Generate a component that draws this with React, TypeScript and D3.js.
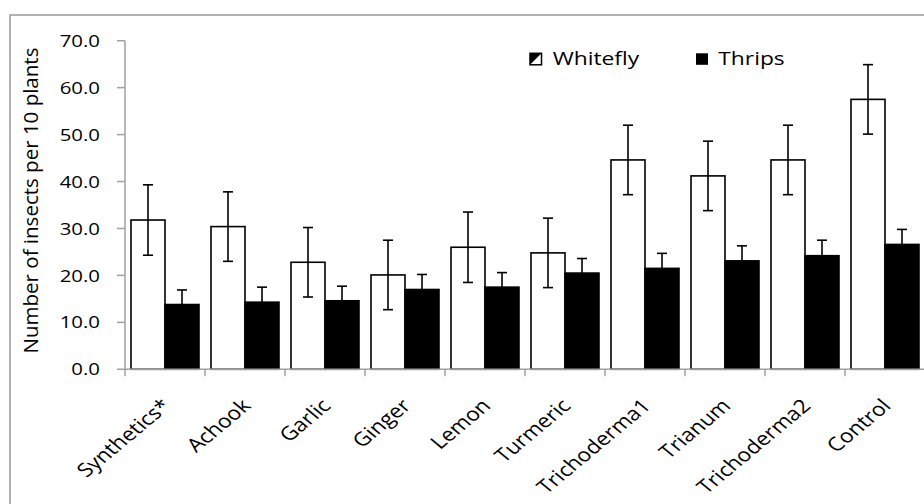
import * as d3 from "d3";

const categories = ["Synthetics*", "Achook", "Garlic", "Ginger", "Lemon", "Turmeric", "Trichoderma1", "Trianum", "Trichoderma2", "Control"];
const whitefly = [31.8, 30.4, 22.8, 20.1, 26.0, 24.8, 44.6, 41.2, 44.6, 57.5];
const whiteflyErr = [7.5, 7.4, 7.4, 7.4, 7.5, 7.4, 7.4, 7.4, 7.4, 7.4];
const thrips = [13.8, 14.3, 14.6, 17.0, 17.5, 20.5, 21.5, 23.1, 24.2, 26.6];
const thripsErr = [3.1, 3.2, 3.1, 3.2, 3.1, 3.1, 3.2, 3.2, 3.3, 3.2];
const seriesNames = ["Whitefly", "Thrips"];
const yTicks = [0, 10, 20, 30, 40, 50, 60, 70];

const W = 924;
const H = 504;
const FONT = "'Open Sans', sans-serif";
const SX = 1.2; // the picture is stretched sideways, text too
const AXIS = "#a0a0a0";

export default function App() {
  const x = d3.scaleBand<string>().domain(categories).range([125, 925]).paddingInner(0.15).paddingOuter(0.075);
  const inner = d3.scaleBand<string>().domain(seriesNames).range([0, x.bandwidth()]);
  const y = d3.scaleLinear().domain([0, 70]).range([369.3, 40.7]);
  const step = x.step();
  const edges = d3.range(categories.length + 1).map((i) => 125 + i * step);

  const series = [
    { name: "Whitefly", values: whitefly, err: whiteflyErr, fill: "#ffffff" },
    { name: "Thrips", values: thrips, err: thripsErr, fill: "#000000" },
  ];

  return (
    <svg width={W} height={H} style={{ position: "absolute", left: 0, top: 0, background: "#fff" }} fontFamily={FONT}>
      <rect x={10} y={15} width={930} height={500} fill="#fff" stroke="#999" strokeWidth={1.5} />

      {/* bars */}
      {series.map((s) =>
        categories.map((c, i) => {
          const bx = (x(c) ?? 0) + (inner(s.name) ?? 0);
          return (
            <rect key={s.name + c} x={bx} y={y(s.values[i])} width={inner.bandwidth()} height={y(0) - y(s.values[i])}
              fill={s.fill} stroke="#000" strokeWidth={1.6} />
          );
        })
      )}

      {/* error bars */}
      {series.map((s) =>
        categories.map((c, i) => {
          const cx = (x(c) ?? 0) + (inner(s.name) ?? 0) + inner.bandwidth() / 2;
          const hi = y(s.values[i] + s.err[i]);
          const lo = y(s.values[i] - s.err[i]);
          return (
            <g key={"e" + s.name + c} stroke="#000" strokeWidth={1.6}>
              <line x1={cx} x2={cx} y1={hi} y2={lo} />
              <line x1={cx - 5} x2={cx + 5} y1={hi} y2={hi} />
              <line x1={cx - 5} x2={cx + 5} y1={lo} y2={lo} />
            </g>
          );
        })
      )}

      {/* y axis */}
      <line x1={125} x2={125} y1={y(70)} y2={y(0)} stroke={AXIS} strokeWidth={1.5} />
      {yTicks.map((t) => (
        <g key={t}>
          <line x1={117} x2={125} y1={y(t)} y2={y(t)} stroke={AXIS} strokeWidth={1.5} />
          <text transform={`translate(100,${y(t)}) scale(${SX},1)`} textAnchor="end" dy="0.36em" fontSize={17} fill="#000">
            {d3.format(".1f")(t)}
          </text>
        </g>
      ))}

      {/* x axis */}
      <line x1={125} x2={925} y1={y(0)} y2={y(0)} stroke={AXIS} strokeWidth={1.5} />
      {edges.map((e) => (
        <line key={e} x1={e} x2={e} y1={y(0)} y2={y(0) + 7} stroke={AXIS} strokeWidth={1.5} />
      ))}
      {categories.map((c) => {
        const cx = (x(c) ?? 0) + x.bandwidth() / 2;
        return (
          <text key={c} transform={`translate(${cx + 7},${407}) scale(${SX},1) rotate(-45)`} textAnchor="end" fontSize={19} fill="#000">
            {c}
          </text>
        );
      })}

      {/* y title */}
      <text transform={`translate(37.5,200.5) rotate(-90)`} textAnchor="middle" fontSize={20.5} fill="#000">
        Number of insects per 10 plants
      </text>

      {/* legend */}
      <g>
        <rect x={530} y={53.3} width={11.5} height={11.5} fill="#fff" stroke="#000" strokeWidth={1.5} />
        <path d={`M530,53.3 L541.5,53.3 L530,64.8 Z`} fill="#000" />
        <text transform={`translate(552.7,65) scale(${SX},1)`} fontSize={19} fill="#000">Whitefly</text>
        <rect x={696} y={53.3} width={12} height={11.5} fill="#000" />
        <text transform={`translate(718.3,65) scale(${SX},1)`} fontSize={19} fill="#000">Thrips</text>
      </g>
    </svg>
  );
}
